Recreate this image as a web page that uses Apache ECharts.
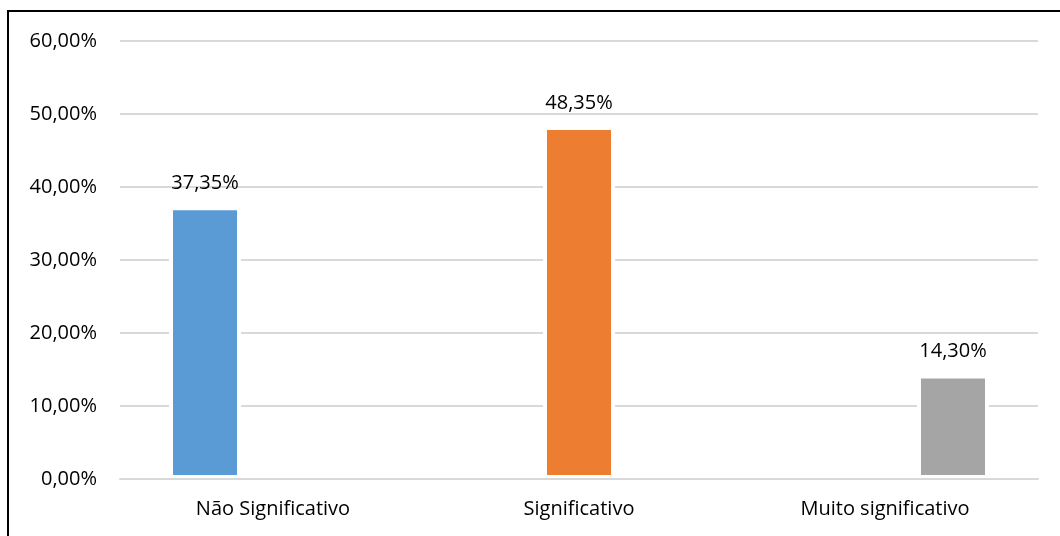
<!DOCTYPE html>
<html>
<head>
<meta charset="utf-8">
<script src="https://cdn.jsdelivr.net/npm/echarts@6/dist/echarts.min.js"></script>
<style>
html,body{margin:0;padding:0;background:#fff;}
#chart{width:1060px;height:536px;}
</style>
</head>
<body>
<div id="chart"></div>
<script>
const categories = ['Não Significativo', 'Significativo', 'Muito significativo'];
const naoSignificativo = [37.35, '-', '-'];
const significativo = ['-', 48.35, '-'];
const muitoSignificativo = ['-', '-', 14.30];
const yTicks = { min: 0, max: 60, interval: 10 };

const FONT = '"Open Sans", sans-serif';
const FS = 20;
const fmt = v => Number(v).toFixed(2).replace('.', ',') + '%';

function mk(name, data, color) {
  return {
    name, type: 'bar', data,
    barWidth: 72, barGap: '-5.56%',
    itemStyle: { color, borderColor: '#ffffff', borderWidth: 4 },
    label: {
      show: true, position: 'top', distance: 13,
      color: '#000', fontFamily: FONT, fontSize: FS,
      formatter: p => fmt(p.value)
    }
  };
}

const chart = echarts.init(document.getElementById('chart'), null, { renderer: 'canvas' });
chart.setOption({
  animation: false,
  backgroundColor: '#fff',
  graphic: [{
    type: 'rect', shape: { x: 8, y: 11, width: 1200, height: 700 },
    style: { fill: 'none', stroke: '#000', lineWidth: 2 }, z: 100
  }],
  grid: { left: 120, right: 22, top: 41, bottom: 57, containLabel: false },
  xAxis: {
    type: 'category', data: categories, z: 3,
    axisTick: { show: false },
    axisLine: { lineStyle: { color: '#D9D9D9', width: 2 } },
    axisLabel: { color: '#000', fontFamily: FONT, fontSize: FS, margin: 20 }
  },
  yAxis: {
    type: 'value', min: yTicks.min, max: yTicks.max, interval: yTicks.interval,
    axisLine: { show: false }, axisTick: { show: false },
    splitLine: { lineStyle: { color: '#D9D9D9', width: 2 } },
    axisLabel: { color: '#000', fontFamily: FONT, fontSize: FS, margin: 23, formatter: v => fmt(v) }
  },
  series: [
    mk('Não Significativo', naoSignificativo, '#5B9BD5'),
    mk('Significativo', significativo, '#ED7D31'),
    mk('Muito significativo', muitoSignificativo, '#A5A5A5')
  ]
});
</script>
</body>
</html>
